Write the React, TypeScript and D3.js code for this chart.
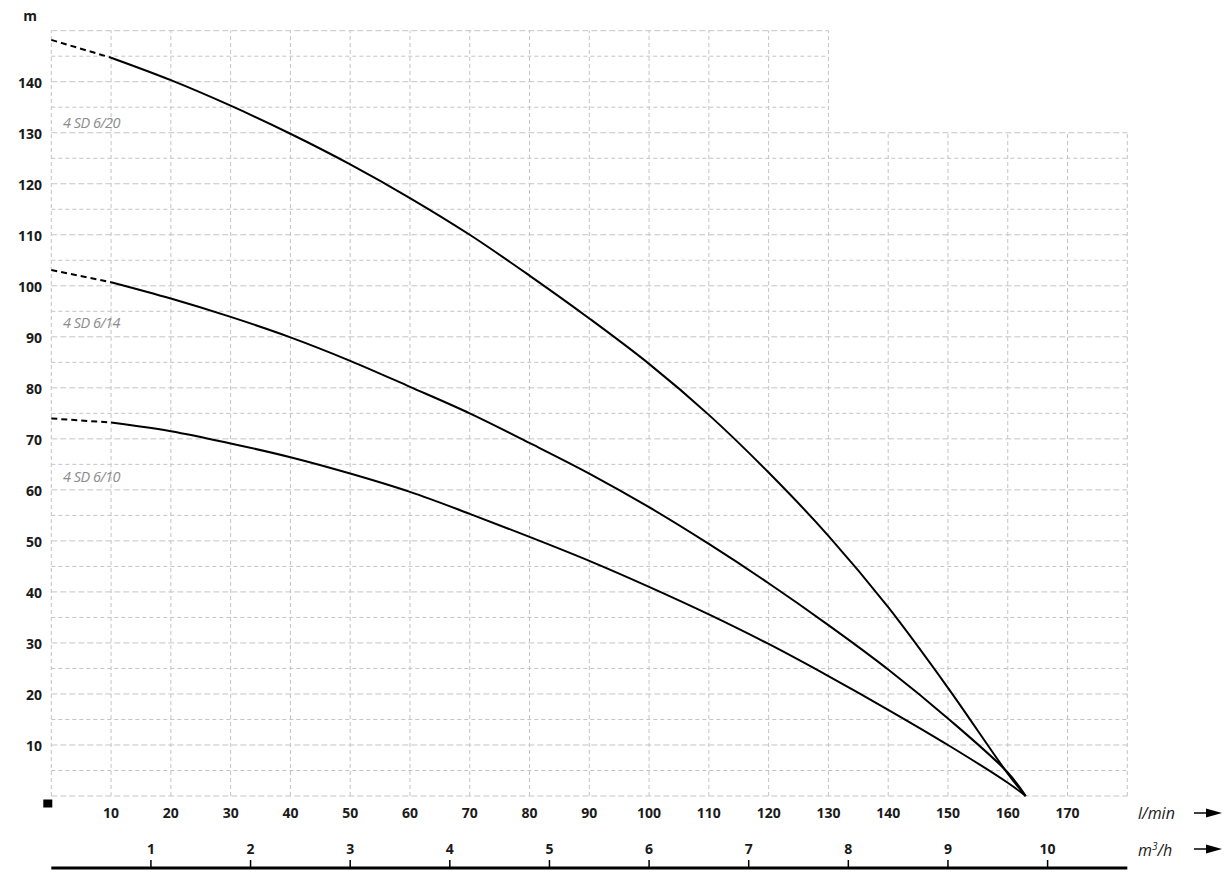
import * as d3 from "d3";
import React, { useEffect, useRef } from "react";

// flow rate in l/min
const flowLpm = [0, 10, 20, 30, 40, 50, 60, 70, 80, 90, 100, 110, 120, 130, 140, 150, 160, 163];

// head in m for each pump
const head620 = [148.2, 144.7, 140.3, 135.3, 129.8, 123.8, 117.2, 110.0, 102.0, 93.6, 84.7, 74.7, 63.4, 51.0, 37.0, 21.2, 4.4, 0];
const head614 = [103.1, 100.7, 97.5, 93.9, 89.9, 85.3, 80.2, 75.0, 69.2, 63.2, 56.6, 49.4, 41.7, 33.5, 24.8, 15.2, 4.6, 0];
const head610 = [74.0, 73.2, 71.5, 69.1, 66.4, 63.2, 59.6, 55.3, 50.8, 46.1, 41.0, 35.6, 29.8, 23.5, 16.9, 10.0, 2.6, 0];

const pumpNames = ["4 SD 6/20", "4 SD 6/14", "4 SD 6/10"];

const headTicks = [10, 20, 30, 40, 50, 60, 70, 80, 90, 100, 110, 120, 130, 140];
const flowTicks = [10, 20, 30, 40, 50, 60, 70, 80, 90, 100, 110, 120, 130, 140, 150, 160, 170];
const m3hTicks = [1, 2, 3, 4, 5, 6, 7, 8, 9, 10];

const App = () => {
	const ref = useRef<SVGSVGElement>(null);

	useEffect(() => {
		const width = 1230;
		const height = 875;
		const svg = d3.select(ref.current);
		svg.selectAll("*").remove();

		const x = d3.scaleLinear().domain([0, 180]).range([51.3, 1127.3]);
		const y = d3.scaleLinear().domain([0, 150]).range([796, 30.7]);
		const axisColor = "#1a1a1a";
		const gridColor = "#c4c4c4";
		const font = "'Open Sans', 'DejaVu Sans', sans-serif";

		// grid: full height up to 130 l/min, lower block to the right
		const grid = svg.append("g").attr("stroke", gridColor).attr("stroke-width", 1).attr("fill", "none");
		d3.range(0, 151, 5).forEach((h) => {
			grid.append("line")
				.attr("x1", x(0))
				.attr("x2", h <= 130 ? x(180) : x(130))
				.attr("y1", y(h))
				.attr("y2", y(h))
				.attr("stroke-dasharray", h % 10 === 0 ? "6,3" : "4,3");
		});
		d3.range(0, 181, 10).forEach((q) => {
			grid.append("line")
				.attr("x1", x(q))
				.attr("x2", x(q))
				.attr("y1", y(0))
				.attr("y2", q <= 130 ? y(150) : y(130))
				.attr("stroke-dasharray", "4,3");
		});

		// head labels
		svg.append("g")
			.selectAll("text")
			.data(headTicks)
			.join("text")
			.attr("x", 42)
			.attr("y", (d) => y(d) + 6)
			.attr("text-anchor", "end")
			.attr("font-family", font)
			.attr("font-weight", "bold")
			.attr("font-size", 14)
			.attr("fill", axisColor)
			.text((d) => d);

		svg.append("text")
			.attr("x", 30)
			.attr("y", 21)
			.attr("text-anchor", "middle")
			.attr("font-family", font)
			.attr("font-weight", "bold")
			.attr("font-size", 14)
			.attr("fill", axisColor)
			.text("m");

		// origin marker
		svg.append("rect")
			.attr("x", x(0) - 8)
			.attr("y", y(0) + 3.5)
			.attr("width", 9)
			.attr("height", 8)
			.attr("fill", "#000");

		// l/min labels
		svg.append("g")
			.selectAll("text")
			.data(flowTicks)
			.join("text")
			.attr("x", (d) => x(d))
			.attr("y", 818)
			.attr("text-anchor", "middle")
			.attr("font-family", font)
			.attr("font-weight", "bold")
			.attr("font-size", 14)
			.attr("fill", axisColor)
			.text((d) => d);

		// m3/h axis
		const m3Base = 868;
		svg.append("line")
			.attr("x1", x(0))
			.attr("x2", x(180))
			.attr("y1", m3Base)
			.attr("y2", m3Base)
			.attr("stroke", "#000")
			.attr("stroke-width", 3);
		const m3g = svg.append("g");
		m3hTicks.forEach((t) => {
			const px = x((t * 1000) / 60);
			m3g.append("line")
				.attr("x1", px)
				.attr("x2", px)
				.attr("y1", m3Base)
				.attr("y2", m3Base - 8)
				.attr("stroke", "#000")
				.attr("stroke-width", 1.5);
			m3g.append("text")
				.attr("x", px)
				.attr("y", 854)
				.attr("text-anchor", "middle")
				.attr("font-family", font)
				.attr("font-weight", "bold")
				.attr("font-size", 14)
				.attr("fill", axisColor)
				.text(t);
		});

		// unit labels with arrows
		const addUnit = (label: string, baseline: number, ay: number, sup?: string) => {
			const t = svg.append("text")
				.attr("x", 1138)
				.attr("y", baseline)
				.attr("font-family", font)
				.attr("font-style", "italic")
				.attr("font-size", 16)
				.attr("fill", axisColor);
			if (sup) {
				t.append("tspan").text("m");
				t.append("tspan").attr("font-size", 10).attr("dy", -6).text(sup);
				t.append("tspan").attr("dy", 6).text("/h");
			} else {
				t.text(label);
			}
			svg.append("line")
				.attr("x1", 1194)
				.attr("x2", 1210)
				.attr("y1", ay)
				.attr("y2", ay)
				.attr("stroke", "#000")
				.attr("stroke-width", 1.5);
			svg.append("path")
				.attr("d", `M1206,${ay - 4.5}L1222,${ay}L1206,${ay + 4.5}Z`)
				.attr("fill", "#000");
		};
		addUnit("l/min", 819, 813);
		addUnit("m3/h", 856, 849, "3");

		// pump curves: dashed up to 10 l/min, solid after
		const line = d3
			.line<[number, number]>()
			.x((d) => x(d[0]))
			.y((d) => y(d[1]))
			.curve(d3.curveCatmullRom.alpha(0.5));

		const series = [head620, head614, head610];
		const labelHeads = [130.9, 91.7, 61.5];
		series.forEach((heads, i) => {
			const pts: [number, number][] = flowLpm.map((q, j) => [q, heads[j]]);
			svg.append("path")
				.datum(pts.filter((p) => p[0] <= 10))
				.attr("fill", "none")
				.attr("stroke", "#000")
				.attr("stroke-width", 2)
				.attr("stroke-dasharray", "6,4")
				.attr("d", line);
			svg.append("path")
				.datum(pts.filter((p) => p[0] >= 10))
				.attr("fill", "none")
				.attr("stroke", "#000")
				.attr("stroke-width", 2)
				.attr("d", line);

			svg.append("text")
				.attr("x", 63)
				.attr("y", y(labelHeads[i]))
				.attr("font-family", font)
				.attr("font-style", "italic")
				.attr("font-size", 14.5)
				.attr("letter-spacing", -0.5)
				.attr("fill", "#8c8c8c")
				.text(pumpNames[i]);
		});

		svg.attr("width", width).attr("height", height);
	}, []);

	return (
		<svg
			ref={ref}
			width={1230}
			height={875}
			style={{ position: "absolute", left: 0, top: 0, background: "#fff" }}
		/>
	);
};

export default App;
